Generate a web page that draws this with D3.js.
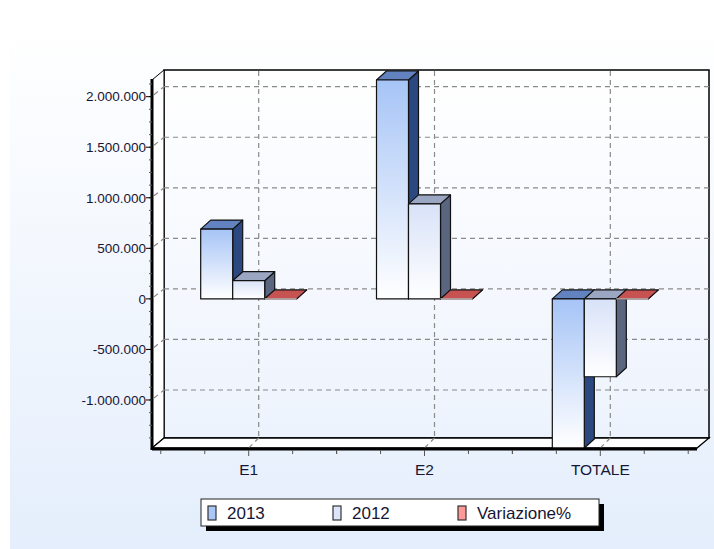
<!DOCTYPE html>
<html lang="it">
<head>
    <meta charset="UTF-8">
    <title>Confronto 2013 / 2012</title>
    <style>
        body {
            margin: 0;
            background-color: #ffffff;
            font-family: "Liberation Sans", Arial, sans-serif;
        }
        .tick-label {
            font-size: 13.5px;
            fill: #161636;
        }
        .cat-label {
            font-size: 15.5px;
            fill: #161636;
        }
        .legend-text {
            font-size: 17px;
            fill: #161636;
        }
    </style>
</head>
<body>
    <div id="chart"></div>

    <script src="https://d3js.org/d3.v7.min.js"></script>
    <script>
        // Dati
        const categorie = ['E1', 'E2', 'TOTALE'];
        const serie = ['2013', '2012', 'Variazione%'];
        const valori2013 = [690000, 2165000, -1475000];
        const valori2012 = [180000, 940000, -770000];
        const variazione = [283, 130, 91];
        const tickY = [-1000000, -500000, 0, 500000, 1000000, 1500000, 2000000];

        const width = 714;
        const height = 549;

        // profondità della vista 3D
        const dx = 12, dy = -10;       // pareti
        const bdx = 10, bdy = -9;      // barre
        const barW = 32;

        const svg = d3.select("#chart")
            .append("svg")
            .attr("width", width)
            .attr("height", height);

        const defs = svg.append("defs");

        function gradiente(id, top, bottom) {
            const g = defs.append("linearGradient")
                .attr("id", id)
                .attr("x1", 0).attr("y1", 0)
                .attr("x2", 0).attr("y2", 1);
            g.append("stop").attr("offset", "0%").attr("stop-color", top);
            g.append("stop").attr("offset", "100%").attr("stop-color", bottom);
        }
        gradiente("sfondo", "#ffffff", "#e4eefc");
        gradiente("parete", "#ffffff", "#edf3fd");
        gradiente("g2013", "#a6c4f6", "#ffffff");
        gradiente("g2012", "#d8e2f8", "#ffffff");
        gradiente("gvar", "#f4c8c8", "#ffffff");

        // sfondo del grafico
        svg.append("rect")
            .attr("x", 10).attr("y", 28)
            .attr("width", width - 10).attr("height", height - 28)
            .attr("fill", "url(#sfondo)");

        // scale (piano frontale)
        const y = d3.scaleLinear()
            .domain([d3.min(valori2013.concat(valori2012)), d3.max(valori2013.concat(valori2012))])
            .range([448, 80]);

        const x = d3.scaleBand()
            .domain(categorie)
            .range([152, 697])
            .paddingOuter(0.05)
            .paddingInner(0);

        const x0 = 152, x1 = 697;
        const yTop = y.range()[1], yBot = y.range()[0];

        const locale = d3.formatLocale({
            decimal: ",", thousands: ".", grouping: [3], currency: ["€", ""], minus: "-"
        });
        const fmt = locale.format(",.0f");

        // parete di fondo
        svg.append("rect")
            .attr("x", x0 + dx).attr("y", yTop + dy)
            .attr("width", x1 - x0).attr("height", yBot - yTop)
            .attr("fill", "url(#parete)")
            .attr("stroke", "#000")
            .attr("stroke-width", 1.5);

        // parete sinistra
        svg.append("path")
            .attr("d", `M${x0},${yTop} L${x0 + dx},${yTop + dy} L${x0 + dx},${yBot + dy} L${x0},${yBot} Z`)
            .attr("fill", "#ffffff")
            .attr("stroke", "#000")
            .attr("stroke-width", 1);

        // pavimento
        svg.append("path")
            .attr("d", `M${x0},${yBot} L${x0 + dx},${yBot + dy} L${x1 + dx},${yBot + dy} L${x1},${yBot} Z`)
            .attr("fill", "#ffffff")
            .attr("stroke", "#000")
            .attr("stroke-width", 1.3);

        // griglia orizzontale (tratteggiata)
        const grid = svg.append("g")
            .attr("stroke", "#8a8a8a")
            .attr("stroke-width", 1.2)
            .attr("stroke-dasharray", "5,4")
            .attr("fill", "none");

        tickY.forEach(v => {
            grid.append("line")
                .attr("x1", x0 + dx).attr("x2", x1 + dx)
                .attr("y1", y(v) + dy).attr("y2", y(v) + dy);
            grid.append("line")
                .attr("x1", x0 + 2).attr("x2", x0 + dx)
                .attr("y1", y(v) - 2).attr("y2", y(v) + dy);
        });

        // griglia verticale
        categorie.forEach(c => {
            const cx = x(c) + x.bandwidth() / 2;
            grid.append("line")
                .attr("x1", cx + dx - 2).attr("x2", cx + dx - 2)
                .attr("y1", yTop + dy + 1).attr("y2", yBot + dy);
            grid.append("line")
                .attr("x1", cx + dx - 2).attr("x2", cx)
                .attr("y1", yBot + dy).attr("y2", yBot);
        });

        // barre 3D
        const colori = {
            '2013': { front: "url(#g2013)", side: "#2b4880", top: "#6283c0" },
            '2012': { front: "url(#g2012)", side: "#5a6680", top: "#9aa6c2" },
            'Variazione%': { front: "url(#gvar)", side: "#8a3030", top: "#c65252" }
        };
        const datiSerie = { '2013': valori2013, '2012': valori2012, 'Variazione%': variazione };

        const gruppoW = barW * serie.length;
        const bars = svg.append("g")
            .attr("stroke", "#111")
            .attr("stroke-width", 1.2)
            .attr("stroke-linejoin", "round");

        categorie.forEach((c, i) => {
            const cx = x(c) + x.bandwidth() / 2;
            serie.forEach((s, j) => {
                const v = datiSerie[s][i];
                const bx = cx - gruppoW / 2 + j * barW;
                // la variazione% sta sulla scala dei valori assoluti: resta piatta sullo zero
                const valore = s === 'Variazione%' ? 0 : v;
                const top = y(Math.max(valore, 0));
                const bottom = y(Math.min(valore, 0));
                const col = colori[s];

                // faccia laterale
                bars.append("path")
                    .attr("d", `M${bx + barW},${top} L${bx + barW + bdx},${top + bdy} L${bx + barW + bdx},${bottom + bdy} L${bx + barW},${bottom} Z`)
                    .attr("fill", col.side);
                // faccia superiore
                bars.append("path")
                    .attr("d", `M${bx},${top} L${bx + bdx},${top + bdy} L${bx + barW + bdx},${top + bdy} L${bx + barW},${top} Z`)
                    .attr("fill", col.top);
                // faccia frontale
                if (bottom - top > 0.5) {
                    bars.append("rect")
                        .attr("x", bx).attr("y", top)
                        .attr("width", barW).attr("height", bottom - top)
                        .attr("fill", col.front);
                } else {
                    bars.append("line")
                        .attr("x1", bx).attr("x2", bx + barW)
                        .attr("y1", top).attr("y2", top)
                        .attr("stroke", "#f8e0e0")
                        .attr("stroke-width", 1);
                }
            });
        });

        // assi frontali spessi
        const assi = svg.append("g").attr("stroke", "#000");
        assi.append("line")
            .attr("x1", x0).attr("x2", x0)
            .attr("y1", yTop - 1).attr("y2", yBot + 2)
            .attr("stroke-width", 3);
        assi.append("line")
            .attr("x1", x0).attr("x2", x1)
            .attr("y1", yBot + 1).attr("y2", yBot + 1)
            .attr("stroke-width", 3);

        // tacche asse Y
        const minoriY = d3.range(0, 2200000, 125000).concat(d3.range(-125000, -1500000, -125000))
            .filter(v => v >= y.domain()[0] && v <= y.domain()[1]);
        minoriY.forEach(v => {
            assi.append("line")
                .attr("x1", x0 - 3).attr("x2", x0)
                .attr("y1", y(v)).attr("y2", y(v))
                .attr("stroke", "#555").attr("stroke-width", 1);
        });
        tickY.forEach(v => {
            assi.append("line")
                .attr("x1", x0 - 6).attr("x2", x0)
                .attr("y1", y(v)).attr("y2", y(v))
                .attr("stroke-width", 1);
            svg.append("text")
                .attr("class", "tick-label")
                .attr("x", x0 - 6)
                .attr("y", y(v))
                .attr("dy", "0.35em")
                .attr("text-anchor", "end")
                .text(fmt(v));
        });

        // tacche asse X
        const passo = x.step() / 4;
        categorie.forEach(c => {
            const cx = x(c) + x.bandwidth() / 2;
            [-2, -1, 1, 2].forEach(k => {
                assi.append("line")
                    .attr("x1", cx + k * passo).attr("x2", cx + k * passo)
                    .attr("y1", yBot + 2).attr("y2", yBot + 6)
                    .attr("stroke", "#555").attr("stroke-width", 1);
            });
            assi.append("line")
                .attr("x1", cx).attr("x2", cx)
                .attr("y1", yBot + 2).attr("y2", yBot + 8)
                .attr("stroke", "#555").attr("stroke-width", 1);
            svg.append("text")
                .attr("class", "cat-label")
                .attr("x", cx)
                .attr("y", yBot + 27)
                .attr("text-anchor", "middle")
                .text(c);
        });

        // legenda
        const leg = svg.append("g").attr("transform", "translate(201,499)");
        leg.append("rect")
            .attr("x", 5).attr("y", 5)
            .attr("width", 398).attr("height", 27)
            .attr("fill", "#000");
        leg.append("rect")
            .attr("x", 0).attr("y", 0)
            .attr("width", 398).attr("height", 27)
            .attr("fill", "#ffffff")
            .attr("stroke", "#222")
            .attr("stroke-width", 1);

        const legColori = ['#a8c6f8', '#dce5fa', '#ff9898'];
        serie.forEach((s, j) => {
            const gx = 7 + j * 125;
            leg.append("rect")
                .attr("x", gx).attr("y", 7)
                .attr("width", 8).attr("height", 14)
                .attr("fill", legColori[j])
                .attr("stroke", "#333")
                .attr("stroke-width", 1.2);
            leg.append("text")
                .attr("class", "legend-text")
                .attr("x", gx + 19)
                .attr("y", 20)
                .text(s);
        });
    </script>
</body>
</html>
